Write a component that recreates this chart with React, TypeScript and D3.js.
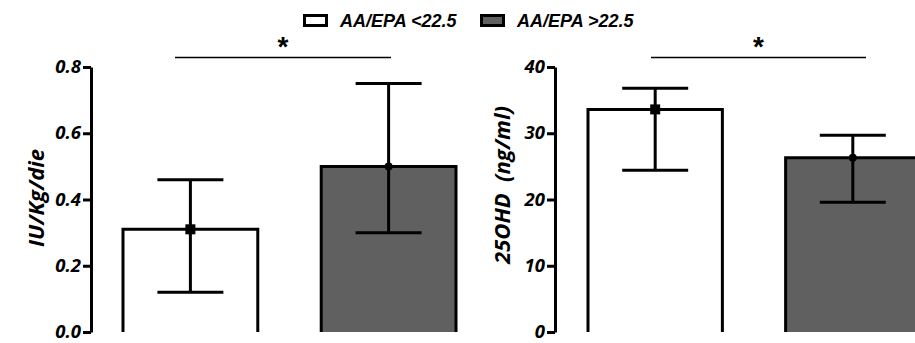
import React, { useRef, useEffect } from 'react'
import { select, scaleLinear, scaleBand, axisLeft, format } from 'd3'

const groups = ['AA/EPA <22.5', 'AA/EPA >22.5']
const fills = ['#ffffff', '#606060']

const iuMean = [0.31, 0.5]
const iuLow = [0.12, 0.3]
const iuHigh = [0.46, 0.75]
const iuTicks = [0, 0.2, 0.4, 0.6, 0.8]

const ohdMean = [33.6, 26.3]
const ohdLow = [24.4, 19.6]
const ohdHigh = [36.8, 29.7]
const ohdTicks = [0, 10, 20, 30, 40]

const W = 915
const H = 343
const yTop = 67
const yBottom = 332

const tickFont = "'Open Sans', 'DejaVu Sans', sans-serif"

function Panel({ axisX, barRange, domainMax, ticks, fmt, mean, low, high, title, titleX, titleY, sig }) {
    const axisRef = useRef()

    const y = scaleLinear().domain([0, domainMax]).range([yBottom, yTop])
    const x = scaleBand().domain(groups).range(barRange).paddingInner(0.32).paddingOuter(0)

    useEffect(() => {
        const axis = axisLeft(y).tickValues(ticks).tickFormat(format(fmt)).tickSize(8).tickSizeOuter(0).tickPadding(2)
        const g = select(axisRef.current)
        g.call(axis)
        g.select('.domain').attr('stroke', '#000').attr('stroke-width', 3)
        g.selectAll('.tick line').attr('stroke', '#000').attr('stroke-width', 3)
        g.selectAll('.tick text')
            .attr('fill', '#000')
            .attr('dy', '0.3em')
            .style('font-family', tickFont)
            .style('font-weight', 'bold')
            .style('font-style', 'italic')
            .style('font-size', '18.5px')
    }, [])

    const capHalf = 33

    return (
        <g>
            {groups.map((gname, i) => {
                const bx = x(gname)
                const bw = x.bandwidth()
                const cx = bx + bw / 2
                const top = y(mean[i])
                return (
                    <g key={gname}>
                        <rect x={bx} y={top} width={bw} height={yBottom - top} fill={fills[i]} />
                        <path d={`M${bx},${yBottom}V${top}H${bx + bw}V${yBottom}`} fill="none" stroke="#000" strokeWidth={3} />
                        <line x1={cx} x2={cx} y1={y(high[i])} y2={y(low[i])} stroke="#000" strokeWidth={3} />
                        <line x1={cx - capHalf} x2={cx + capHalf} y1={y(high[i])} y2={y(high[i])} stroke="#000" strokeWidth={3} />
                        <line x1={cx - capHalf} x2={cx + capHalf} y1={y(low[i])} y2={y(low[i])} stroke="#000" strokeWidth={3} />
                        {i === 0
                            ? <rect x={cx - 5} y={top - 5} width={10} height={10} fill="#000" />
                            : <circle cx={cx} cy={top} r={4} fill="#000" />}
                    </g>
                )
            })}
            <g ref={axisRef} transform={`translate(${axisX},0)`} />
            <text transform={`translate(${titleX},${titleY}) rotate(-90)`} textAnchor="middle"
                style={{ fontFamily: tickFont, fontWeight: 'bold', fontStyle: 'italic', fontSize: '22px', whiteSpace: 'pre' }}>
                {title}
            </text>
            <line x1={sig[0]} x2={sig[1]} y1={57.5} y2={57.5} stroke="#000" strokeWidth={1.5} />
            <text x={(sig[0] + sig[1]) / 2} y={56} textAnchor="middle"
                style={{ fontFamily: "'Liberation Sans', Arial, sans-serif", fontWeight: 'bold', fontSize: '28px' }}>*</text>
        </g>
    )
}

function App() {
    const legendX = [303, 480]
    return (
        <svg width={W} height={H} style={{ position: 'absolute', left: 0, top: 0, background: '#fff' }}>
            {groups.map((gname, i) => (
                <g key={gname} transform={`translate(${legendX[i]},0)`}>
                    <rect x={1.5} y={15.5} width={22} height={10} fill={fills[i]} stroke="#000" strokeWidth={3} />
                    <text x={37} y={27} style={{ fontFamily: "'Liberation Sans', Arial, sans-serif", fontWeight: 'bold', fontStyle: 'italic', fontSize: '18px' }}>
                        {gname}
                    </text>
                </g>
            ))}
            <Panel axisX={91} barRange={[123, 456]} domainMax={0.8} ticks={iuTicks} fmt=".1f"
                mean={iuMean} low={iuLow} high={iuHigh} title="IU/Kg/die" titleX={44} titleY={198} sig={[175, 391]} />
            <Panel axisX={555} barRange={[588, 920]} domainMax={40} ticks={ohdTicks} fmt="d"
                mean={ohdMean} low={ohdLow} high={ohdHigh} title={'25OHD  (ng/ml)'} titleX={510} titleY={185} sig={[651, 866]} />
        </svg>
    )
}

export default App
